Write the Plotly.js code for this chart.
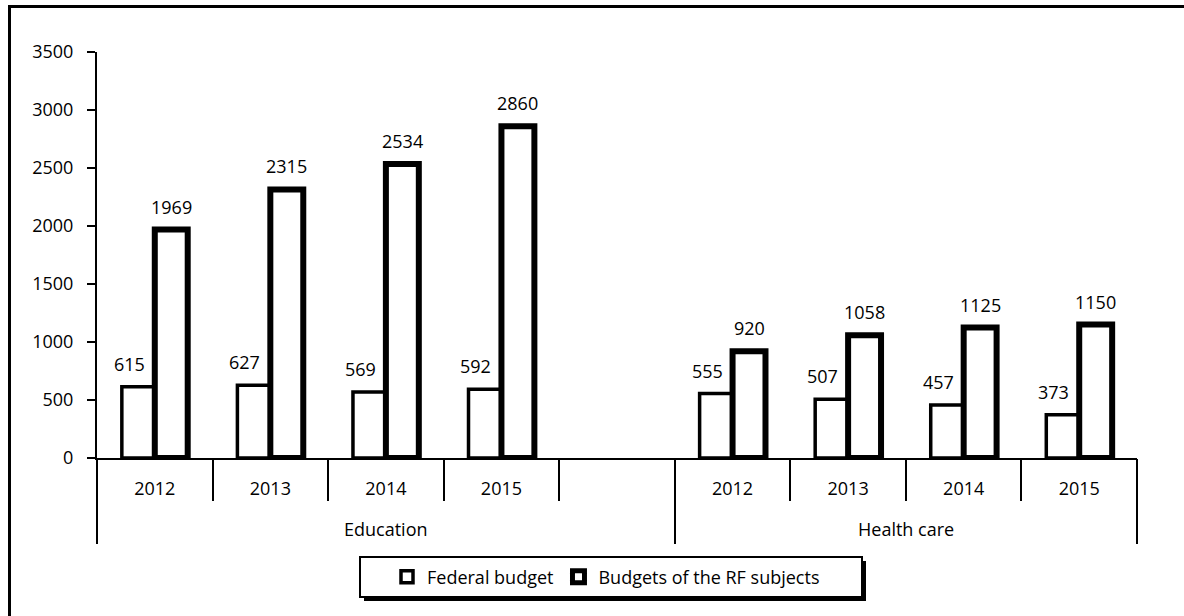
<!DOCTYPE html>
<html>
<head>
<meta charset="utf-8">
<script src="https://cdn.plot.ly/plotly-3.0.1.min.js"></script>
<style>
  html, body { margin: 0; padding: 0; background: #ffffff; }
  #chart { width: 1184px; height: 616px; }
</style>
</head>
<body>
<div id="chart"></div>
<script>
// Spending by budget level, two sectors, 2012-2015
const sectors = ["Education", "Health care"];
const years = ["2012", "2013", "2014", "2015"];
const federalEducation = [615, 627, 569, 592];
const regionalEducation = [1969, 2315, 2534, 2860];
const federalHealth = [555, 507, 457, 373];
const regionalHealth = [920, 1058, 1125, 1150];
const seriesNames = ["Federal budget", "Budgets of the RF subjects"];

// Slot layout on the category axis: four years, one empty slot, four years
const eduSlots = years.map((_, i) => i);
const healthSlots = years.map((_, i) => i + years.length + 1);
const slots = eduSlots.concat(healthSlots);
const slotCount = slots[slots.length - 1] + 1;
const tickText = years.concat(years);
const federal = federalEducation.concat(federalHealth);
const regional = regionalEducation.concat(regionalHealth);

const FONT = "Open Sans, Noto Sans, sans-serif";
const FS = 18;
const BARGAP = 0.43;

// Plot area in pixels
const W = 1184, H = 616;
const M = { l: 97, r: 47, t: 52, b: 158 };
const plotW = W - M.l - M.r, plotH = H - M.t - M.b;
const px = v => (v - M.l) / plotW;      // pixel x -> paper x
const py = v => (H - M.b - v) / plotH;  // pixel y -> paper y

const traces = [
  {
    type: "bar", name: seriesNames[0], x: slots, y: federal,
    marker: { color: "#ffffff", line: { color: "#000000", width: 3.5 } },
    hoverinfo: "y"
  },
  {
    type: "bar", name: seriesNames[1], x: slots, y: regional,
    marker: { color: "#ffffff", line: { color: "#000000", width: 6 } },
    hoverinfo: "y"
  }
];

// Value labels above each bar
const half = (1 - BARGAP) / 4;
const annotations = [];
slots.forEach((s, i) => {
  annotations.push({
    x: s - half, y: federal[i], xref: "x", yref: "y",
    text: String(federal[i]), showarrow: false,
    yanchor: "middle", yshift: 23, xshift: -9,
    font: { family: FONT, size: FS, color: "#000000" }
  });
  annotations.push({
    x: s + half, y: regional[i], xref: "x", yref: "y",
    text: String(regional[i]), showarrow: false,
    yanchor: "middle", yshift: 23,
    font: { family: FONT, size: FS, color: "#000000" }
  });
});

// Sector labels under the year row
const sectorSpans = [[-0.5, years.length + 0.5], [years.length + 0.5, slotCount - 0.5]];
sectors.forEach((name, i) => {
  annotations.push({
    x: (sectorSpans[i][0] + sectorSpans[i][1]) / 2, y: py(529),
    xref: "x", yref: "paper", text: name, showarrow: false,
    yanchor: "middle",
    font: { family: FONT, size: FS, color: "#000000" }
  });
});

// Boundary positions between year slots (short) and around sectors (long)
const shortTicks = [];
const longTicks = [-0.5];
for (let b = 0.5; b < slotCount - 0.5; b += 1) {
  if (Math.abs(b - (years.length + 0.5)) < 1e-9) longTicks.push(b);
  else shortTicks.push(b);
}
longTicks.push(slotCount - 0.5);

const shapes = [
  // outer frame
  { type: "rect", xref: "paper", yref: "paper",
    x0: px(9.5), x1: px(1200), y0: py(6.5), y1: py(640),
    line: { color: "#000000", width: 3 }, fillcolor: "rgba(0,0,0,0)", layer: "below" },
  // legend box shadow and box
  { type: "rect", xref: "paper", yref: "paper",
    x0: px(364), x1: px(866), y0: py(561), y1: py(601),
    line: { width: 0 }, fillcolor: "#000000", layer: "above" },
  { type: "rect", xref: "paper", yref: "paper",
    x0: px(360), x1: px(862), y0: py(557), y1: py(597),
    line: { color: "#000000", width: 2 }, fillcolor: "#ffffff", layer: "above" }
];

const baseX = {
  range: [-0.5, slotCount - 0.5], fixedrange: true,
  showgrid: false, zeroline: false
};

const layout = {
  width: W, height: H,
  margin: M,
  paper_bgcolor: "#ffffff", plot_bgcolor: "#ffffff",
  font: { family: FONT, size: FS, color: "#000000" },
  barmode: "group", bargap: BARGAP, bargroupgap: 0,
  showlegend: true,
  legend: {
    orientation: "h", x: px(606), xanchor: "center", y: py(577), yanchor: "middle",
    bgcolor: "rgba(0,0,0,0)", borderwidth: 0,
    font: { family: FONT, size: FS, color: "#000000" }
  },
  xaxis: Object.assign({}, baseX, {
    tickmode: "array", tickvals: slots, ticktext: tickText,
    ticks: "", showline: true, linecolor: "#000000", linewidth: 2,
    ticklabelstandoff: 13,
    tickfont: { family: FONT, size: FS, color: "#000000" }
  }),
  xaxis2: Object.assign({}, baseX, {
    overlaying: "x", matches: "x", anchor: "y", side: "bottom",
    tickmode: "array", tickvals: shortTicks, showticklabels: false,
    ticks: "outside", ticklen: 42, tickwidth: 2, tickcolor: "#000000", showline: false
  }),
  xaxis3: Object.assign({}, baseX, {
    overlaying: "x", matches: "x", anchor: "y", side: "bottom",
    tickmode: "array", tickvals: longTicks, showticklabels: false,
    ticks: "outside", ticklen: 85, tickwidth: 2, tickcolor: "#000000", showline: false
  }),
  yaxis: {
    range: [0, 3500], dtick: 500, tick0: 0, fixedrange: true,
    showgrid: false, zeroline: false,
    showline: true, linecolor: "#000000", linewidth: 2,
    ticks: "outside", ticklen: 8, tickwidth: 2, tickcolor: "#000000",
    ticklabelstandoff: 10,
    tickfont: { family: FONT, size: FS, color: "#000000" }
  },
  annotations: annotations,
  shapes: shapes
};

// Empty traces put the boundary axes on the chart
traces.push({ type: "scatter", x: [], y: [], xaxis: "x2", showlegend: false, hoverinfo: "skip" });
traces.push({ type: "scatter", x: [], y: [], xaxis: "x3", showlegend: false, hoverinfo: "skip" });

Plotly.newPlot("chart", traces, layout, { staticPlot: true, displayModeBar: false });
</script>
</body>
</html>
